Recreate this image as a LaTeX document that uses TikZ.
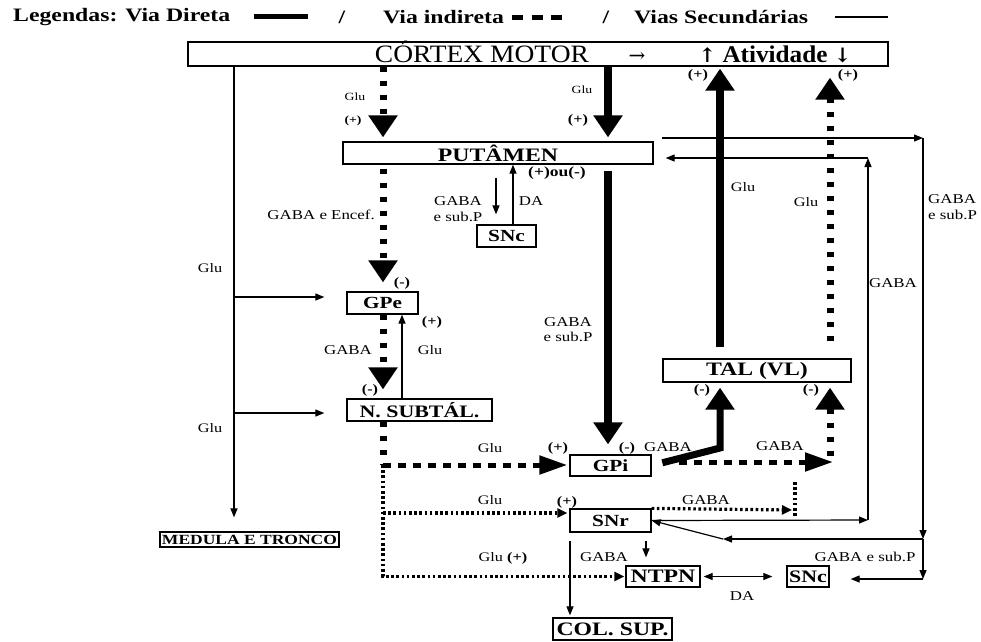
\documentclass[tikz,border=0pt]{standalone}
\usepackage{fontspec}
\setmainfont{Liberation Serif}
\newfontfamily\arrowfont{DejaVu Serif}
\usepackage{graphicx}
\usetikzlibrary{arrows.meta,calc}
\newcommand\sx[1]{\scalebox{1.25}[1]{#1}}
\begin{document}
\begin{tikzpicture}[x=1pt,y=-1pt,
  box/.style={draw, line width=1.3pt, inner sep=0pt},
  lab/.style={inner sep=0pt, font=\fontsize{13.5}{15.5}\selectfont, align=center},
  glu/.style={inner sep=0pt, font=\fontsize{13}{15}\selectfont},
  slab/.style={inner sep=0pt, font=\fontsize{11}{13}\selectfont},
  sgn/.style={inner sep=0pt, font=\bfseries\fontsize{13}{15}\selectfont},
  ssgn/.style={inner sep=0pt, font=\bfseries\fontsize{11}{13}\selectfont},
  thinl/.style={line width=1.2pt},
  ta/.style={thinl, -{Triangle[length=9pt,width=7pt]}},
  dir/.style={line width=8pt},
  bigv/.style={-{Triangle[length=22pt,width=28pt]}},
  bigh/.style={-{Triangle[length=28pt,width=18pt]}},
  indv/.style={line width=7pt, dash pattern=on 5pt off 9pt},
  indh/.style={line width=5pt, dash pattern=on 8pt off 7pt},
  fine/.style={line width=3.2pt, dash pattern=on 2.6pt off 2.6pt},
  fa/.style={fine, -{Triangle[length=10pt,width=9pt]}},
]
\useasboundingbox (0,0) rectangle (981,641);
\fill[white] (0,0) rectangle (981,641);

% legend
\node[inner sep=0pt, anchor=west, font=\bfseries\fontsize{19}{21}\selectfont] (lg1) at (13,17) {\sx{Legendas: Via Direta}};
\draw[line width=5pt] (254,16) -- (308,16);
\node[inner sep=0pt, font=\bfseries\fontsize{19}{21}\selectfont] (lg2) at (342,17) {\sx{/}};
\node[inner sep=0pt, anchor=west, font=\bfseries\fontsize{19}{21}\selectfont] (lg3) at (383,17) {\sx{Via indireta}};
\draw[line width=5pt, dash pattern=on 11pt off 8.5pt] (512,17.5) -- (562,17.5);
\node[inner sep=0pt, font=\bfseries\fontsize{19}{21}\selectfont] (lg4) at (606,17) {\sx{/}};
\node[inner sep=0pt, anchor=west, font=\bfseries\fontsize{19}{21}\selectfont] (lg5) at (634,17) {\sx{Vias Secundárias}};
\draw[thinl] (835,17) -- (888,17);

% boxes
\node[box, minimum width=700pt, minimum height=24pt] (ctx) at (538,54) {};
\node[inner sep=0pt, anchor=base, font=\fontsize{25}{28}\selectfont] (ctxt) at (482,62) {\scalebox{1.1}[1]{CÓRTEX MOTOR}};
\node[inner sep=0pt, anchor=base, font=\arrowfont\fontsize{20}{24}\selectfont] (carr) at (637,62) {→};
\node[inner sep=0pt, anchor=base, font=\bfseries\fontsize{24}{28}\selectfont] (catv) at (775,62) {\scalebox{1.05}[1]{{\arrowfont\fontsize{20}{24}\selectfont ↑} Atividade {\arrowfont\fontsize{20}{24}\selectfont ↓}}};

\node[box, minimum width=310pt, minimum height=22pt, font=\bfseries\fontsize{19}{21}\selectfont] (put) at (498,153) {\sx{PUTÂMEN}};
\node[box, minimum width=59pt, minimum height=22pt, font=\bfseries\fontsize{17}{19}\selectfont] (snc1) at (506.5,236) {\sx{SNc}};
\node[box, minimum width=71pt, minimum height=22pt, font=\bfseries\fontsize{17}{19}\selectfont] (gpe) at (382.5,303) {\sx{GPe}};
\node[box, minimum width=145pt, minimum height=22pt, font=\bfseries\fontsize{17.5}{19}\selectfont] (sub) at (419.5,410) {\sx{N. SUBTÁL.}};
\node[box, minimum width=188pt, minimum height=23pt, font=\bfseries\fontsize{19}{21}\selectfont] (tal) at (757,370.5) {\sx{TAL (VL)}};
\node[box, minimum width=81pt, minimum height=21pt, font=\bfseries\fontsize{17}{19}\selectfont] (gpi) at (610.5,465.5) {\sx{GPi}};
\node[box, minimum width=81pt, minimum height=23pt, font=\bfseries\fontsize{17}{19}\selectfont] (snr) at (610.5,520.5) {\sx{SNr}};
\node[box, minimum width=74pt, minimum height=21pt, font=\bfseries\fontsize{19}{21}\selectfont] (ntpn) at (663,576.5) {\sx{NTPN}};
\node[box, minimum width=42pt, minimum height=21pt, font=\bfseries\fontsize{17.5}{19}\selectfont] (snc2) at (808,576.5) {\sx{SNc}};
\node[box, minimum width=119pt, minimum height=22pt, font=\bfseries\fontsize{19}{21}\selectfont] (col) at (612.5,629) {\sx{COL. SUP.}};
\node[box, minimum width=179pt, minimum height=15pt, font=\bfseries\fontsize{14}{16}\selectfont] (med) at (249.5,539.5) {\sx{MEDULA E TRONCO}};

% coordinates
\coordinate (xL) at (234,0);
\coordinate (xI) at (383,0);
\coordinate (xD) at (608,0);
\coordinate (xS) at (496,0);
\coordinate (xDA) at (513,0);
\coordinate (xG) at (402,0);
\coordinate (xT1) at (720,0);
\coordinate (xT2) at (830,0);
\coordinate (xC) at (570,0);
\coordinate (xN) at (646,0);
\coordinate (gL) at (234,297);
\coordinate (sL) at (234,413);
\coordinate (cG1) at (720,448);
\coordinate (cG2) at (833,462);
\coordinate (cG3) at (830,456);
\coordinate (cP1) at (662,138);
\coordinate (cR2t) at (923,138);
\coordinate (cR2m) at (923,539);
\coordinate (cR2b) at (923,579);
\coordinate (cD1) at (723,539);
\coordinate (cR1b) at (868,520);
\coordinate (cR1t) at (868,158);
\coordinate (cN) at (383,465);
\coordinate (cS) at (383,513);
\coordinate (cSR) at (792,510);
\coordinate (cV1) at (795,482);
\coordinate (cV2) at (795,517);

% connectors
\draw[ta, shorten >=14pt] (ctx.south -| xL) -- (med.north -| xL);
\draw[ta, shorten >=22pt] (gL) -- (gpe.west |- gL);
\draw[ta, shorten >=22pt] (sL) -- (sub.west |- sL);
\draw[indv, bigv, shorten >=4pt] (ctx.south -| xI) -- (put.north -| xI);
\draw[dir, bigv, shorten >=4pt] (ctx.south -| xD) -- (put.north -| xD);
\draw[indv, bigv, shorten <=4pt, shorten >=9pt] (put.south -| xI) -- (gpe.north -| xI);
\draw[ta, shorten <=13pt, shorten >=10pt] (put.south -| xS) -- (snc1.north -| xS);
\draw[ta] (snc1.north -| xDA) -- (put.south -| xDA);
\draw[dir, bigv, shorten <=6pt, shorten >=10pt] (put.south -| xD) -- (gpi.north -| xD);
\draw[indv, bigv, shorten >=9pt] (gpe.south -| xI) -- (sub.north -| xI);
\draw[ta] (sub.north -| xG) -- (gpe.south -| xG);
\draw[indv] (sub.south -| xI) -- (cN);
\draw[indh, bigh, shorten >=2pt] (cN) -- (gpi.west |- cN);
\draw[fa, shorten >=1pt] (cN) -- (cN |- ntpn.west) -- (ntpn.west);
\draw[fa, shorten >=2pt] (cS) -- (snr.west |- cS);
\draw[fa] (snr.north east) -- (cSR);
\draw[fine] (cV1) -- (cV2);
\draw[line width=7pt, bigv, shorten <=11pt, shorten >=5pt] (gpi.east) -- (cG1) -- (tal.south -| cG1);
\draw[indh, bigh, shorten <=27pt] (gpi.east |- cG2) -- (cG2);
\draw[indv, bigv, shorten >=5pt] (cG3) -- (tal.south -| cG3);
\draw[dir, bigv, shorten <=11pt, shorten >=2pt] (tal.north -| xT1) -- (ctx.south -| xT1);
\draw[indv, bigv, shorten <=17pt, shorten >=11pt] (tal.north -| xT2) -- (ctx.south -| xT2);

\draw[ta] (cP1) -- (cR2t);
\draw[ta] (cR2t) -- (cR2m);
\draw[ta] (cR2m) -- (cR2b);
\draw[ta, shorten >=21pt] (cR2b) -- (snc2.east |- cR2b);
\draw[ta] (cR2m) -- (cD1);
\draw[ta] (cD1) -- (snr.east);
\draw[ta] (snr.east) -- (cR1b);
\draw[ta] (cR1b) -- (cR1t);
\draw[ta, shorten >=12pt] (cR1t) -- (put.east |- cR1t);
\draw[thinl, {Triangle[length=9pt,width=7pt]}-{Triangle[length=9pt,width=7pt]}, shorten <=3pt, shorten >=14pt] (ntpn.east) -- (snc2.west);
\draw[ta, shorten <=8pt, shorten >=2pt] (snr.south -| xC) -- (col.north -| xC);
\draw[ta, shorten <=8pt, shorten >=8pt] (snr.south -| xN) -- (ntpn.north -| xN);

% labels
\node[slab] (g1) at (355,97) {\sx{Glu}};
\node[ssgn] (p1) at (353,121) {\sx{(+)}};
\node[slab] (g2) at (582,90) {\sx{Glu}};
\node[sgn] (p2) at (578,120) {\sx{(+)}};
\node[sgn] (p3) at (698,75) {\sx{(+)}};
\node[sgn] (p4) at (848,75) {\sx{(+)}};
\node[glu] (g3) at (743,187) {\sx{Glu}};
\node[glu] (g4) at (806,202) {\sx{Glu}};
\node[sgn, font=\bfseries\fontsize{14}{16}\selectfont] (pm) at (557,173) {\sx{(+)ou(-)}};
\node[lab] (gs1) at (458,209) {\sx{GABA}\\\sx{e sub.P}};
\node[lab] (da1) at (531,201) {\sx{DA}};
\node[lab, anchor=east] (ge) at (375,215) {\sx{GABA e Encef.}};
\node[glu] (g5) at (210,268) {\sx{Glu}};
\node[glu] (g6) at (210,428) {\sx{Glu}};
\node[sgn] (m1) at (402,283) {\sx{(-)}};
\node[sgn] (p5) at (432,322) {\sx{(+)}};
\node[glu] (g7) at (430,350) {\sx{Glu}};
\node[lab] (ga1) at (348,350) {\sx{GABA}};
\node[sgn] (m2) at (370,390) {\sx{(-)}};
\node[lab] (gs2) at (568,329.5) {\sx{GABA}\\\sx{e sub.P}};
\node[sgn] (m3) at (702,390) {\sx{(-)}};
\node[sgn] (m4) at (811,390) {\sx{(-)}};
\node[glu] (g8) at (490,448) {\sx{Glu}};
\node[sgn] (p6) at (558,448) {\sx{(+)}};
\node[sgn] (m5) at (627,448) {\sx{(-)}};
\node[lab] (ga2) at (668,447) {\sx{GABA}};
\node[lab] (ga3) at (780,446) {\sx{GABA}};
\node[glu] (g9) at (490,500) {\sx{Glu}};
\node[sgn] (p7) at (567,502) {\sx{(+)}};
\node[lab] (ga4) at (706,500) {\sx{GABA}};
\node[lab] (ga5) at (604,557) {\sx{GABA}};
\node[glu] (g10) at (503,558) {\sx{Glu \textbf{(+)}}};
\node[lab] (da2) at (742,596) {\sx{DA}};
\node[lab] (ga6) at (893,283) {\sx{GABA}};
\node[lab, anchor=west, align=left] (gs3) at (928,207) {\sx{GABA}\\\sx{e sub.P}};
\node[lab] (gs4) at (865,557) {\sx{GABA e sub.P}};
\end{tikzpicture}
\end{document}
